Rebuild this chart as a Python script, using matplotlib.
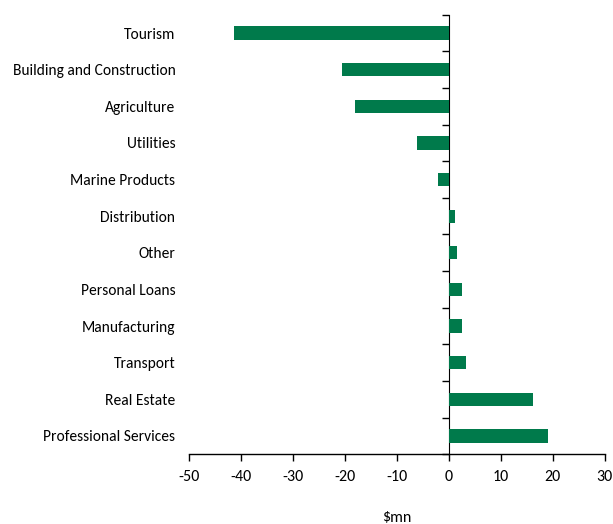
import matplotlib
matplotlib.use("Agg")
import matplotlib.pyplot as plt
import numpy as np

sectors = [
    "Tourism",
    "Building and Construction",
    "Agriculture",
    "Utilities",
    "Marine Products",
    "Distribution",
    "Other",
    "Personal Loans",
    "Manufacturing",
    "Transport",
    "Real Estate",
    "Professional Services",
]
change_mn = [-41.4, -20.5, -18.0, -6.1, -2.1, 1.2, 1.6, 2.5, 2.5, 3.2, 16.1, 19.0]
xticks = [-50, -40, -30, -20, -10, 0, 10, 20, 30]

plt.rcParams["font.family"] = ["Carlito", "DejaVu Sans"]

fig = plt.figure(figsize=(6.13, 5.24), dpi=100)
W, H = 613, 524
ax = fig.add_axes([189.3 / W, 1 - 454.3 / H, (604.7 - 189.3) / W, (454.3 - 14.7) / H])

green = "#007A4B"
y = np.arange(len(sectors))
ax.barh(y, change_mn, height=0.36, color=green, zorder=3)

ax.set_xlim(-50, 30)
ax.set_ylim(len(sectors) - 0.5, -0.5)
ax.set_xticks(xticks)
ax.set_xticklabels([str(t) for t in xticks], fontsize=11.5)
ax.tick_params(axis="x", direction="out", length=5, width=1, pad=6, colors="black")
ax.set_xlabel("$mn", fontsize=11.5, labelpad=20)

ax.set_yticks(y)
ax.set_yticklabels(sectors, fontsize=11.2)
ax.tick_params(axis="y", length=0, pad=10)

for s in ["top", "right", "left"]:
    ax.spines[s].set_visible(False)
ax.spines["bottom"].set_linewidth(1)

# vertical axis line at zero with ticks between categories
zero_pos = (0 - (-50)) / (30 - (-50))
sec = ax.secondary_yaxis(zero_pos)
sec.set_yticks(np.arange(-0.5, len(sectors), 1.0))
sec.set_yticklabels([])
sec.tick_params(direction="in", length=5, width=1)
sec.spines["left"].set_linewidth(1)

fig.savefig("out.png", dpi=100)
